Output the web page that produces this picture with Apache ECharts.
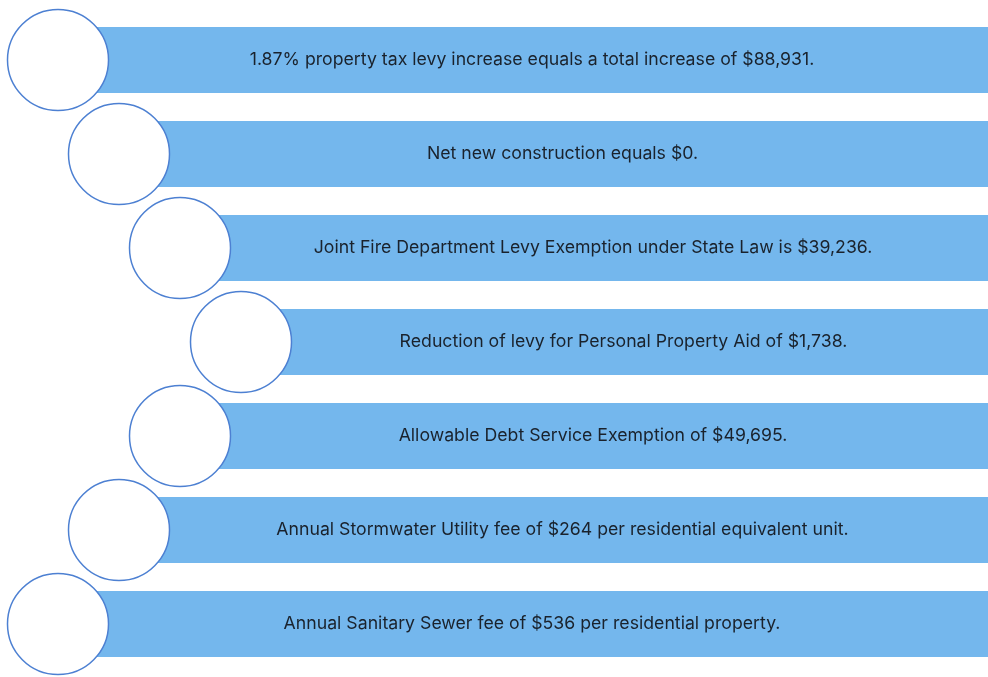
<!DOCTYPE html>
<html>
<head>
<meta charset="utf-8">
<script src="https://cdn.jsdelivr.net/npm/echarts@6/dist/echarts.min.js"></script>
<style>
html, body { margin: 0; padding: 0; background: #fff; }
#chart { width: 988px; height: 677px; }
</style>
</head>
<body>
<div id="chart"></div>
<script>
// text of each row, top to bottom
var items = [
    '1.87% property tax levy increase equals a total increase of $88,931.',
    'Net new construction equals $0.',
    'Joint Fire Department Levy Exemption under State Law is $39,236.',
    'Reduction of levy for Personal Property Aid of $1,738.',
    'Allowable Debt Service Exemption of $49,695.',
    'Annual Stormwater Utility fee of $264 per residential equivalent unit.',
    'Annual Sanitary Sewer fee of $536 per residential property.'
];
// how far each row is stepped in (0 = leftmost)
var levels = [0, 1, 2, 3, 2, 1, 0];

var WIDTH = 988;
var cx = levels.map(function (l) { return 58 + 61 * l; });

var chart = echarts.init(document.getElementById('chart'));
var option = {
    animation: false,
    grid: { left: 0, right: 0, top: 13, bottom: 6 },
    xAxis: { type: 'value', min: 0, max: WIDTH, show: false },
    yAxis: {
        type: 'category',
        inverse: true,
        data: items.map(function (t, i) { return 'row' + i; }),
        show: false
    },
    series: [
        {
            type: 'bar',
            stack: 'row',
            barWidth: 66,
            itemStyle: { color: 'transparent' },
            data: cx
        },
        {
            type: 'bar',
            stack: 'row',
            barWidth: 66,
            itemStyle: { color: '#74b7ed' },
            label: {
                show: true,
                position: 'inside',
                offset: [9, 0],
                color: '#1a222c',
                fontFamily: 'Inter',
                fontSize: 17.7,
                formatter: function (p) { return items[p.dataIndex]; }
            },
            data: cx.map(function (x) { return WIDTH - x; })
        },
        {
            type: 'scatter',
            symbol: 'circle',
            symbolSize: 101,
            z: 5,
            itemStyle: { color: '#ffffff', borderColor: '#4d80d2', borderWidth: 1.5, opacity: 1 },
            data: cx.map(function (x, i) { return [x, i]; })
        }
    ]
};
chart.setOption(option);
</script>
</body>
</html>
